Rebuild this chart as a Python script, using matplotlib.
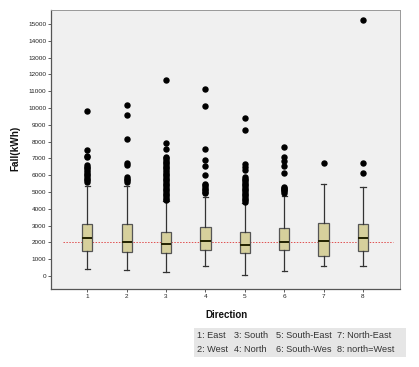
import matplotlib.pyplot as plt
from matplotlib.patches import Rectangle

# values (kWh)
directions = [1, 2, 3, 4, 5, 6, 7, 8]
whislo = [435, 375, 220, 577, 60, 280, 595, 577]
q1 = [1488, 1410, 1369, 1530, 1350, 1530, 1190, 1468]
med = [2262, 2024, 1887, 2083, 1827, 2024, 2065, 2262]
q3 = [3095, 3077, 2637, 2897, 2600, 2839, 3135, 3077]
whishi = [5357, 5357, 4450, 4700, 4350, 4744, 5456, 5298]
fliers = [
    [9850, 7480, 7160, 7060, 6600, 6500, 6400, 6300, 6200, 6100, 6000, 5900, 5800, 5700, 5620],
    [10150, 9560, 8140, 6700, 6620, 5910, 5800, 5700, 5610],
    [11650, 7940, 7540, 7100, 7000, 6900, 6800, 6700, 6600, 6500, 6400, 6300, 6200, 6100,
     6000, 5900, 5800, 5700, 5600, 5500, 5400, 5300, 5200, 5100, 5000, 4900, 4800, 4700,
     4600, 4550],
    [11150, 10140, 7540, 6890, 6530, 6010, 5480, 5400, 5300, 5200, 5100, 5000, 4920],
    [9390, 8670, 6670, 6510, 6310, 5910, 5800, 5700, 5600, 5500, 5400, 5300, 5200, 5100,
     5000, 4900, 4800, 4700, 4600, 4500, 4430],
    [7700, 7070, 6870, 6570, 6110, 5320, 5250, 5180, 5100, 5030, 4960],
    [6700],
    [15220, 6740, 6150],
]
ref_value = 2050
yticks = [0, 1000, 2000, 3000, 4000, 5000, 6000, 7000, 8000, 9000, 10000,
          11000, 12000, 13000, 14000, 15000]
legend_rows = [["1: East", "3: South", "5: South-East", "7: North-East"],
               ["2: West", "4: North", "6: South-Wes", "8: north=West"]]

plt.rcParams['font.family'] = ['Liberation Sans', 'DejaVu Sans']

fig = plt.figure(figsize=(4.19, 3.67), dpi=100)
ax = fig.add_axes([0.1217, 0.2125, 0.833, 0.7615])
ax.set_facecolor('#f0f0f0')

stats = []
for i in range(len(directions)):
    stats.append(dict(whislo=whislo[i], q1=q1[i], med=med[i], q3=q3[i],
                      whishi=whishi[i], fliers=fliers[i]))

ax.bxp(stats, positions=directions, widths=0.26, patch_artist=True,
       boxprops=dict(facecolor='#d6d09c', edgecolor='#555555', linewidth=0.9),
       medianprops=dict(color='#222200', linewidth=1.4),
       whiskerprops=dict(color='#333333', linewidth=0.9),
       capprops=dict(color='#333333', linewidth=0.9),
       capwidths=0.13,
       flierprops=dict(marker='o', markerfacecolor='black', markeredgecolor='black',
                       markersize=3.6, linestyle='none'))

ax.hlines(ref_value, 0.39, 8.77, colors='#e05050', linestyles=(0, (1.5, 1.5)),
          linewidth=0.7, zorder=1)

ax.set_xlim(0.08, 8.94)
ax.set_ylim(-775, 15860)
ax.set_xticks(directions)
ax.set_xticklabels([str(d) for d in directions])
ax.set_yticks(yticks)
ax.tick_params(axis='both', labelsize=4.6, length=2.5, width=0.6, color='#444444',
               labelcolor='#222222', pad=1)

for s in ['left', 'bottom']:
    ax.spines[s].set_color('#555555')
    ax.spines[s].set_linewidth(0.9)
for s in ['top', 'right']:
    ax.spines[s].set_color('#999999')
    ax.spines[s].set_linewidth(0.7)

fig.text(15 / 419, 1 - 148 / 367, "Fall(kWh)", rotation=90, fontsize=7.2,
         fontweight='bold', ha='center', va='center', color='#111111')
fig.text(226 / 419, 1 - 314.5 / 367, "Direction", fontsize=7,
         fontweight='bold', ha='center', va='center', color='#111111')

# key box at the bottom
fig.patches.append(Rectangle((194 / 419, 1 - 357 / 367), 212 / 419, 29 / 367,
                             transform=fig.transFigure, facecolor='#e6e6e6',
                             edgecolor='none'))
col_x = [197, 234, 276, 337]
row_y = [336, 349]
for r, row in enumerate(legend_rows):
    for c, label in enumerate(row):
        fig.text(col_x[c] / 419, 1 - row_y[r] / 367, label, fontsize=6.6,
                 ha='left', va='center', color='#333333')

fig.savefig('out.png', dpi=100)
